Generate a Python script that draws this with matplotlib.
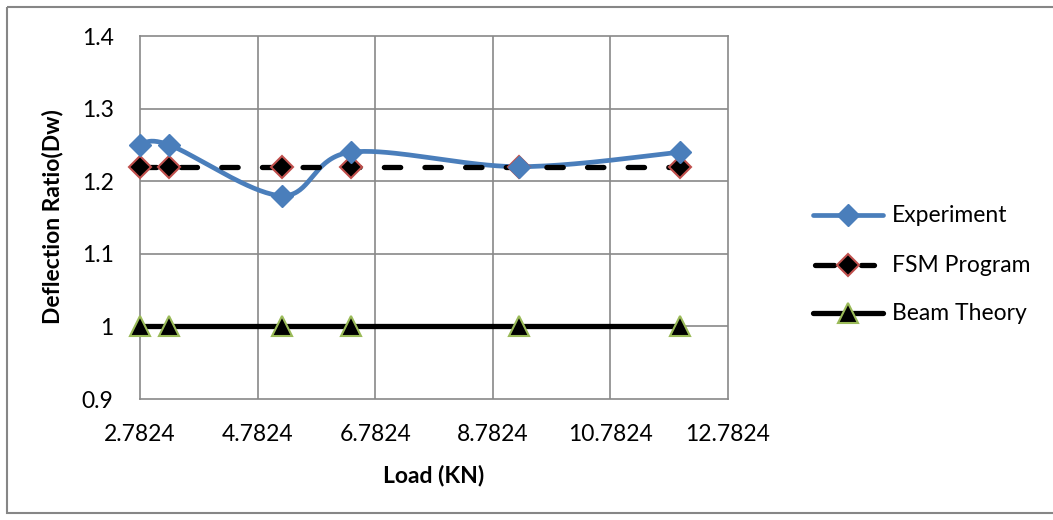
import numpy as np
import matplotlib
matplotlib.use("Agg")
import matplotlib.pyplot as plt
from matplotlib.patches import Rectangle

# ---- data ----
load = [2.7824, 3.28, 5.19, 6.37, 9.22, 11.97]
experiment = [1.25, 1.25, 1.18, 1.24, 1.22, 1.24]
fsm = [1.22, 1.22, 1.22, 1.22, 1.22, 1.22]
beam = [1.0, 1.0, 1.0, 1.0, 1.0, 1.0]
xticks = [2.7824, 4.7824, 6.7824, 8.7824, 10.7824, 12.7824]
yticks = [0.9, 1.0, 1.1, 1.2, 1.3, 1.4]
ytick_labels = ["0.9", "1", "1.1", "1.2", "1.3", "1.4"]
xtick_labels = ["2.7824", "4.7824", "6.7824", "8.7824", "10.7824", "12.7824"]
series_names = ["Experiment", "FSM Program", "Beam Theory"]

plt.rcParams['font.family'] = ['Lato', 'DejaVu Sans']

W, H = 1053, 520
fig = plt.figure(figsize=(W / 100, H / 100), dpi=100)
ax_l, ax_r, ax_t, ax_b = 140, 728, 36, 399
ax = fig.add_axes([ax_l / W, 1 - ax_b / H, (ax_r - ax_l) / W, (ax_b - ax_t) / H])

xmin, xmax = xticks[0], xticks[-1]
ymin, ymax = yticks[0], yticks[-1]
ax.set_xlim(xmin, xmax)
ax.set_ylim(ymin, ymax)

# smooth curve (Excel-like Catmull-Rom Bezier in screen space)
def smooth(xs, ys, n=40):
    pw, ph = ax_r - ax_l, ax_b - ax_t
    P = np.array([[(x - xmin) / (xmax - xmin) * pw, (y - ymin) / (ymax - ymin) * ph]
                  for x, y in zip(xs, ys)])
    out = []
    for i in range(len(P) - 1):
        p0 = P[i - 1] if i > 0 else P[i]
        p1, p2 = P[i], P[i + 1]
        p3 = P[i + 2] if i + 2 < len(P) else P[i + 1]
        c1 = p1 + (p2 - p0) / 6
        c2 = p2 - (p3 - p1) / 6
        t = np.linspace(0, 1, n)[:, None]
        seg = (1 - t) ** 3 * p1 + 3 * (1 - t) ** 2 * t * c1 + 3 * (1 - t) * t ** 2 * c2 + t ** 3 * p2
        out.append(seg if i == 0 else seg[1:])
    S = np.vstack(out)
    return S[:, 0] / pw * (xmax - xmin) + xmin, S[:, 1] / ph * (ymax - ymin) + ymin

grid_c = "#898989"
for v in xticks[1:-1]:
    ax.axvline(v, color=grid_c, lw=1.2, zorder=1)
for v in yticks[1:-1]:
    ax.axhline(v, color=grid_c, lw=1.2, zorder=1)
for s in ax.spines.values():
    s.set_color(grid_c)
    s.set_linewidth(1.2)

blue = "#4A7EBB"
red = "#C0504D"
green = "#9BBB59"
dash = (0, (3.1, 4.6))
dms, tms = 11.5, 14

sx, sy = smooth(load, experiment)
ax.plot(sx, sy, color=blue, lw=3.4, zorder=3, solid_capstyle='round')
ax.plot(load, experiment, ls='none', marker='D', ms=dms, color=blue,
        mec=blue, zorder=4, clip_on=False)

ax.plot(load, fsm, color="black", lw=3.8, ls=dash, dash_capstyle='round',
        zorder=3)
ax.plot(load, fsm, ls='none', marker='D', ms=dms, mfc='black', mec=red, mew=1.5,
        zorder=3.5, clip_on=False)

ax.plot(load, beam, color="black", lw=3.8, zorder=3)
ax.plot(load, beam, ls='none', marker='^', ms=tms, mfc='black', mec=green, mew=1.5,
        zorder=3.5, clip_on=False)

ax.set_xticks(xticks)
ax.set_xticklabels(xtick_labels)
ax.set_yticks(yticks)
ax.set_yticklabels(ytick_labels)
ax.tick_params(axis='both', length=0, labelsize=16.5, colors='black')
ax.tick_params(axis='y', pad=19)
ax.tick_params(axis='x', pad=18)

fig.text(53 / W, 1 - 217 / H, "Deflection Ratio(Dw)", rotation=90, fontsize=16.5,
         fontweight='bold', ha='center', va='center')
fig.text(434 / W, 1 - 475 / H, "Load (KN)", fontsize=16.5, fontweight='bold',
         ha='center', va='center')

# legend drawn manually in figure pixel coordinates
leg_y = [215, 265, 313]
lx0, lx1, tx = 813, 883, 892
fa = fig.add_axes([0, 0, 1, 1], zorder=-1)
fa.set_xlim(0, W)
fa.set_ylim(H, 0)
fa.axis('off')
fa.add_patch(Rectangle((7, 7), W + 5, H - 14, fill=False, ec="#868686", lw=1.5))

lax = fig.add_axes([0, 0, 1, 1], zorder=5)
lax.set_xlim(0, W)
lax.set_ylim(H, 0)
lax.axis('off')
lax.plot([lx0, lx1], [leg_y[0]] * 2, color=blue, lw=3.4, solid_capstyle='round')
lax.plot([(lx0 + lx1) / 2], [leg_y[0]], marker='D', ms=dms, color=blue)
lax.plot([lx0 + 2, 834], [leg_y[1]] * 2, color="black", lw=3.8, solid_capstyle='round')
lax.plot([861, 874], [leg_y[1]] * 2, color="black", lw=3.8, solid_capstyle='round')
lax.plot([848], [leg_y[1]], marker='D', ms=dms, mfc='black', mec=red, mew=1.5)
lax.plot([lx0, lx1], [leg_y[2]] * 2, color="black", lw=3.8, solid_capstyle='round')
lax.plot([(lx0 + lx1) / 2], [leg_y[2]], marker='^', ms=tms, mfc='black',
         mec=green, mew=1.5)
for y, name in zip(leg_y, series_names):
    lax.text(tx, y, name, fontsize=16.5, ha='left', va='center')

fig.savefig("out.png", dpi=100, facecolor='white')
